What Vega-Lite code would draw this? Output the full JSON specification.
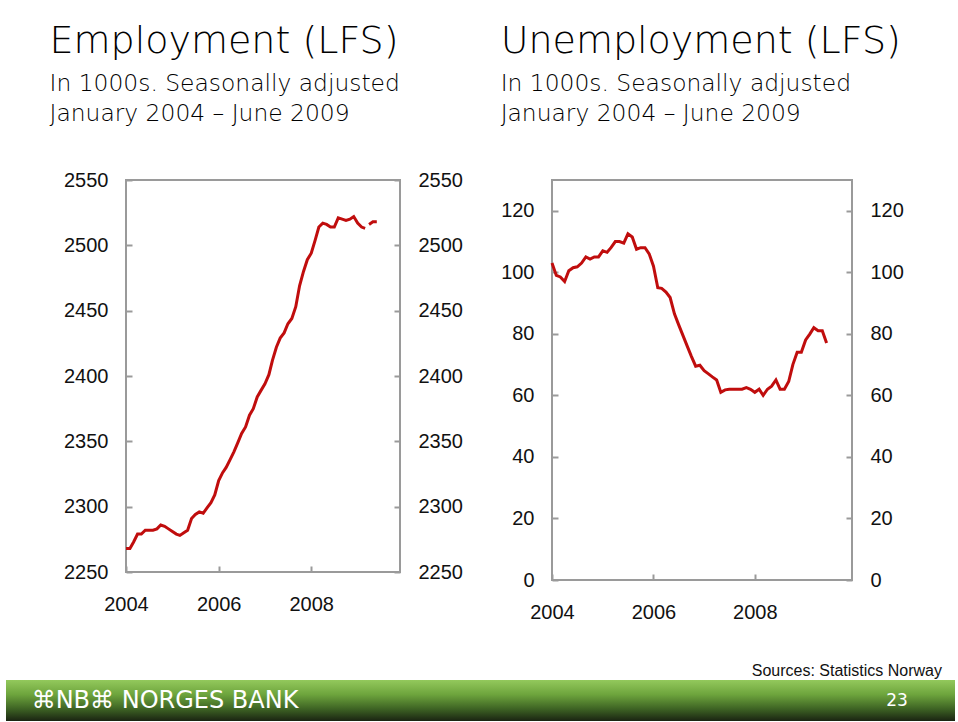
{
  "$schema": "https://vega.github.io/schema/vega-lite/v6.json",
  "padding": {"left": 6, "top": 21, "right": 0, "bottom": 0},
  "background": "white",
  "config": {
    "font": "Liberation Sans",
    "view": {"stroke": "#9a9a9a", "strokeWidth": 2},
    "axis": {"domain": false, "grid": false, "ticks": true, "tickColor": "#9a9a9a", "tickWidth": 2, "tickSize": -6, "labelFontSize": 20, "labelFont": "Liberation Sans", "labelColor": "#111", "title": null, "labelFlush": false, "labelOverlap": false},
    "title": {"font": "DejaVu Sans", "fontSize": 38, "fontWeight": 300, "color": "#000", "subtitleFont": "DejaVu Sans", "subtitleFontSize": 23.4, "subtitleFontWeight": 300, "subtitleColor": "#000", "subtitleLineHeight": 30, "subtitlePadding": 12, "anchor": "start", "frame": "bounds"}
  },
  "datasets": {
    "employment": [
      {"date": "2004-01", "value": 2268, "part": 1}, {"date": "2004-02", "value": 2268, "part": 1}, {"date": "2004-03", "value": 2273, "part": 1}, {"date": "2004-04", "value": 2279, "part": 1}, {"date": "2004-05", "value": 2279, "part": 1}, {"date": "2004-06", "value": 2282, "part": 1}, {"date": "2004-07", "value": 2282, "part": 1}, {"date": "2004-08", "value": 2282, "part": 1}, {"date": "2004-09", "value": 2283, "part": 1}, {"date": "2004-10", "value": 2286, "part": 1}, {"date": "2004-11", "value": 2285, "part": 1}, {"date": "2004-12", "value": 2283, "part": 1},
      {"date": "2005-01", "value": 2281, "part": 1}, {"date": "2005-02", "value": 2279, "part": 1}, {"date": "2005-03", "value": 2278, "part": 1}, {"date": "2005-04", "value": 2280, "part": 1}, {"date": "2005-05", "value": 2282, "part": 1}, {"date": "2005-06", "value": 2291, "part": 1}, {"date": "2005-07", "value": 2294, "part": 1}, {"date": "2005-08", "value": 2296, "part": 1}, {"date": "2005-09", "value": 2295, "part": 1}, {"date": "2005-10", "value": 2299, "part": 1}, {"date": "2005-11", "value": 2303, "part": 1}, {"date": "2005-12", "value": 2309, "part": 1},
      {"date": "2006-01", "value": 2320, "part": 1}, {"date": "2006-02", "value": 2326, "part": 1}, {"date": "2006-03", "value": 2330, "part": 1}, {"date": "2006-04", "value": 2336, "part": 1}, {"date": "2006-05", "value": 2342, "part": 1}, {"date": "2006-06", "value": 2349, "part": 1}, {"date": "2006-07", "value": 2356, "part": 1}, {"date": "2006-08", "value": 2361, "part": 1}, {"date": "2006-09", "value": 2370, "part": 1}, {"date": "2006-10", "value": 2375, "part": 1}, {"date": "2006-11", "value": 2384, "part": 1}, {"date": "2006-12", "value": 2389, "part": 1},
      {"date": "2007-01", "value": 2394, "part": 1}, {"date": "2007-02", "value": 2401, "part": 1}, {"date": "2007-03", "value": 2412, "part": 1}, {"date": "2007-04", "value": 2422, "part": 1}, {"date": "2007-05", "value": 2429, "part": 1}, {"date": "2007-06", "value": 2433, "part": 1}, {"date": "2007-07", "value": 2440, "part": 1}, {"date": "2007-08", "value": 2444, "part": 1}, {"date": "2007-09", "value": 2453, "part": 1}, {"date": "2007-10", "value": 2469, "part": 1}, {"date": "2007-11", "value": 2480, "part": 1}, {"date": "2007-12", "value": 2489, "part": 1},
      {"date": "2008-01", "value": 2494, "part": 1}, {"date": "2008-02", "value": 2504, "part": 1}, {"date": "2008-03", "value": 2514, "part": 1}, {"date": "2008-04", "value": 2517, "part": 1}, {"date": "2008-05", "value": 2516, "part": 1}, {"date": "2008-06", "value": 2514, "part": 1}, {"date": "2008-07", "value": 2514, "part": 1}, {"date": "2008-08", "value": 2521, "part": 1}, {"date": "2008-09", "value": 2520, "part": 1}, {"date": "2008-10", "value": 2519, "part": 1}, {"date": "2008-11", "value": 2520, "part": 1}, {"date": "2008-12", "value": 2522, "part": 1},
      {"date": "2009-01", "value": 2517, "part": 1}, {"date": "2009-02", "value": 2514, "part": 1}, {"date": "2009-03", "value": 2513, "part": 1}, {"date": "2009-04", "value": 2516, "part": 2}, {"date": "2009-05", "value": 2518, "part": 2}, {"date": "2009-06", "value": 2518, "part": 2}
    ],
    "unemployment": [
      {"date": "2004-01", "value": 103}, {"date": "2004-02", "value": 99}, {"date": "2004-03", "value": 98.5}, {"date": "2004-04", "value": 97}, {"date": "2004-05", "value": 100.5}, {"date": "2004-06", "value": 101.5}, {"date": "2004-07", "value": 101.8}, {"date": "2004-08", "value": 103}, {"date": "2004-09", "value": 105}, {"date": "2004-10", "value": 104.3}, {"date": "2004-11", "value": 105}, {"date": "2004-12", "value": 105},
      {"date": "2005-01", "value": 107}, {"date": "2005-02", "value": 106.5}, {"date": "2005-03", "value": 108}, {"date": "2005-04", "value": 110}, {"date": "2005-05", "value": 110}, {"date": "2005-06", "value": 109.5}, {"date": "2005-07", "value": 112.5}, {"date": "2005-08", "value": 111.5}, {"date": "2005-09", "value": 107.5}, {"date": "2005-10", "value": 108}, {"date": "2005-11", "value": 108}, {"date": "2005-12", "value": 106},
      {"date": "2006-01", "value": 102}, {"date": "2006-02", "value": 95}, {"date": "2006-03", "value": 94.8}, {"date": "2006-04", "value": 93.6}, {"date": "2006-05", "value": 91.8}, {"date": "2006-06", "value": 86.5}, {"date": "2006-07", "value": 83}, {"date": "2006-08", "value": 79.5}, {"date": "2006-09", "value": 76}, {"date": "2006-10", "value": 72.7}, {"date": "2006-11", "value": 69.5}, {"date": "2006-12", "value": 69.8},
      {"date": "2007-01", "value": 68}, {"date": "2007-02", "value": 67}, {"date": "2007-03", "value": 66}, {"date": "2007-04", "value": 65}, {"date": "2007-05", "value": 61}, {"date": "2007-06", "value": 61.8}, {"date": "2007-07", "value": 62}, {"date": "2007-08", "value": 62}, {"date": "2007-09", "value": 62}, {"date": "2007-10", "value": 62}, {"date": "2007-11", "value": 62.5}, {"date": "2007-12", "value": 62},
      {"date": "2008-01", "value": 61}, {"date": "2008-02", "value": 62}, {"date": "2008-03", "value": 60}, {"date": "2008-04", "value": 62}, {"date": "2008-05", "value": 63}, {"date": "2008-06", "value": 65}, {"date": "2008-07", "value": 62}, {"date": "2008-08", "value": 62}, {"date": "2008-09", "value": 64.5}, {"date": "2008-10", "value": 70}, {"date": "2008-11", "value": 74}, {"date": "2008-12", "value": 74},
      {"date": "2009-01", "value": 78}, {"date": "2009-02", "value": 80}, {"date": "2009-03", "value": 82}, {"date": "2009-04", "value": 81}, {"date": "2009-05", "value": 81}, {"date": "2009-06", "value": 77}
    ],
    "banner": [
      {"label": "⌘NB⌘ NORGES BANK", "slot": "brand"},
      {"label": "23", "slot": "page"}
    ]
  },
  "spacing": 40,
  "vconcat": [
    {
      "spacing": 35,
      "hconcat": [
        {
          "width": 7, "height": 10,
          "data": {"values": []},
          "mark": "point",
          "view": {"stroke": null}
        },
        {
          "width": 274, "height": 392,
          "title": {"text": "Employment (LFS)", "subtitle": ["In 1000s. Seasonally adjusted", "January 2004 – June 2009"], "dx": -14, "offset": 45},
          "data": {"name": "employment"},
          "layer": [
            {
              "mark": {"type": "line", "color": "#c00d0d", "strokeWidth": 3, "strokeCap": "butt"},
              "encoding": {
                "x": {"field": "date", "type": "temporal", "scale": {"domain": [{"year": 2004, "month": 1, "date": 1}, {"year": 2009, "month": 12, "date": 1}]}, "axis": {"values": [{"year": 2004}, {"year": 2006}, {"year": 2008}], "format": "%Y", "labelPadding": 28}},
                "y": {"field": "value", "type": "quantitative", "scale": {"domain": [2250, 2550], "nice": false, "zero": false}, "axis": {"orient": "left", "values": [2250, 2300, 2350, 2400, 2450, 2500, 2550], "format": "d", "labelPadding": 24}},
                "detail": {"field": "part"}
              }
            },
            {
              "mark": {"type": "line", "opacity": 0},
              "encoding": {
                "x": {"field": "date", "type": "temporal"},
                "y": {"field": "value", "type": "quantitative", "axis": {"orient": "right", "values": [2250, 2300, 2350, 2400, 2450, 2500, 2550], "format": "d", "labelPadding": 24}},
                "detail": {"field": "part"}
              }
            }
          ],
          "resolve": {"axis": {"y": "independent"}}
        },
        {
          "width": 300, "height": 400,
          "title": {"text": "Unemployment (LFS)", "subtitle": ["In 1000s. Seasonally adjusted", "January 2004 – June 2009"], "dx": 0, "offset": 55},
          "data": {"name": "unemployment"},
          "layer": [
            {
              "mark": {"type": "line", "color": "#c00d0d", "strokeWidth": 3},
              "encoding": {
                "x": {"field": "date", "type": "temporal", "scale": {"domain": [{"year": 2004, "month": 1, "date": 1}, {"year": 2009, "month": 12, "date": 1}]}, "axis": {"values": [{"year": 2004}, {"year": 2006}, {"year": 2008}], "format": "%Y", "labelPadding": 28}},
                "y": {"field": "value", "type": "quantitative", "scale": {"domain": [0, 130], "nice": false}, "axis": {"orient": "left", "values": [0, 20, 40, 60, 80, 100, 120], "labelPadding": 24}}
              }
            },
            {
              "mark": {"type": "line", "opacity": 0},
              "encoding": {
                "x": {"field": "date", "type": "temporal"},
                "y": {"field": "value", "type": "quantitative", "axis": {"orient": "right", "values": [0, 20, 40, 60, 80, 100, 120], "labelPadding": 24}}
              }
            }
          ],
          "resolve": {"axis": {"y": "independent"}}
        }
      ]
    },
    {
      "width": 949, "height": 41,
      "view": {"stroke": null, "fill": {"gradient": "linear", "x1": 0, "y1": 0, "x2": 0, "y2": 1, "stops": [{"offset": 0, "color": "#93c95c"}, {"offset": 0.35, "color": "#6ea53d"}, {"offset": 0.7, "color": "#3e6424"}, {"offset": 1, "color": "#1a2412"}]}},
      "title": {"text": "Sources: Statistics Norway", "anchor": "end", "frame": "group", "font": "Liberation Sans", "fontSize": 16, "fontWeight": "normal", "color": "#111", "offset": 1, "dx": -13},
      "data": {"name": "banner"},
      "mark": {"type": "text", "color": "white", "font": "DejaVu Sans"},
      "encoding": {
        "text": {"field": "label"},
        "x": {"field": "slot", "type": "nominal", "scale": {"type": "point", "padding": 0, "domain": ["brand", "page"], "range": [159, 891]}, "axis": null},
        "size": {"field": "slot", "type": "nominal", "scale": {"domain": ["brand", "page"], "range": [24, 17]}, "legend": null}
      }
    }
  ]
}
